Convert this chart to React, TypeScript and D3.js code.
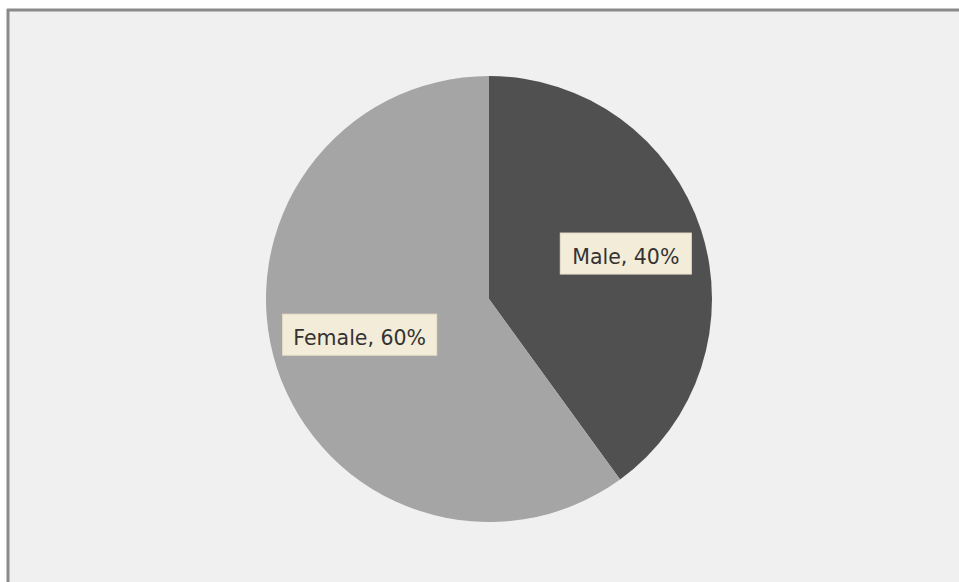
import React from "react";
import * as d3 from "d3";

const categories = ["Male", "Female"];
const values = [40, 60];
const colors = ["#505050", "#a5a5a5"];

export default function App() {
  const W = 959, H = 582;
  const cx = 489, cy = 299, r = 223;
  const labelRadiusFactor = [0.645, 0.605];
  const labelOffsets = [[0, -1], [-1, -6]];
  const boxWidths = [131, 154];
  const pie = d3.pie<number>().sort(null).value((d) => d)(values);
  const arc = d3.arc<d3.PieArcDatum<number>>().innerRadius(0).outerRadius(r);
  const total = d3.sum(values);
  return (
    <svg width={W} height={H} style={{ position: "absolute", left: 0, top: 0 }}>
      <rect x={0} y={0} width={W} height={H} fill="#ffffff" />
      <rect x={7} y={9} width={W - 7} height={H - 9} fill="#f0f0f0" />
      <line x1={8} y1={9} x2={8} y2={H} stroke="#8a8a8a" strokeWidth={3} />
      <line x1={7} y1={10} x2={W} y2={10} stroke="#8a8a8a" strokeWidth={3} />
      <g transform={`translate(${cx},${cy})`}>
        {pie.map((p, i) => (
          <path key={categories[i]} d={arc(p) || ""} fill={colors[i]} />
        ))}
        {pie.map((p, i) => {
          const lr = r * labelRadiusFactor[i];
          const [ax, ay] = d3
            .arc<d3.PieArcDatum<number>>()
            .innerRadius(lr)
            .outerRadius(lr)
            .centroid(p);
          const lx = ax + labelOffsets[i][0];
          const ly = ay + labelOffsets[i][1];
          const text = `${categories[i]}, ${Math.round((values[i] / total) * 100)}%`;
          const w = boxWidths[i];
          const h = 41;
          return (
            <g key={"l" + i} transform={`translate(${lx},${ly})`}>
              <rect x={-w / 2} y={-h / 2} width={w} height={h} fill="#f3ecd8" stroke="#e9e1cc" strokeWidth={1} />
              <text
                textAnchor="middle"
                y={10.5}
                fontFamily="'DejaVu Sans', sans-serif"
                fontSize={20.5}
                fill="#333333"
              >
                {text}
              </text>
            </g>
          );
        })}
      </g>
    </svg>
  );
}
